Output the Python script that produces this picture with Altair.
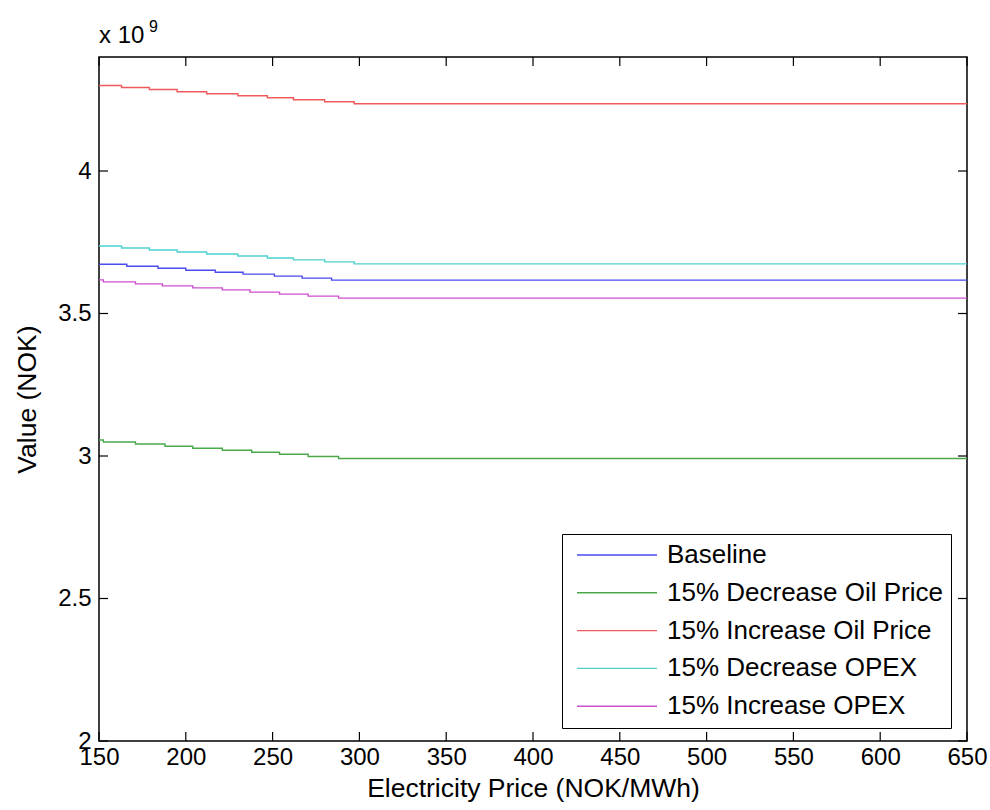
import altair as alt
import pandas as pd

# ---- data (values in units of 1e9 NOK) ----
series_names = [
    "Baseline",
    "15% Decrease Oil Price",
    "15% Increase Oil Price",
    "15% Decrease OPEX",
    "15% Increase OPEX",
]
series_colors = ["#4b4bf0", "#4aa84a", "#f05a5a", "#4fd0d0", "#d04fd0"]

baseline_x = [150, 166, 184, 200, 217, 233, 251, 267, 284, 650]
baseline_y = [3.673, 3.666, 3.659, 3.652, 3.645, 3.638, 3.631, 3.624, 3.617, 3.617]

dec_oil_x = [150, 152.5, 171, 188, 204, 221, 238, 254, 270.5, 288, 650]
dec_oil_y = [3.056, 3.049, 3.042, 3.034, 3.027, 3.020, 3.013, 3.006, 2.998, 2.991, 2.991]

inc_oil_x = [150, 163, 179, 195, 212, 230, 247, 262, 280, 297, 650]
inc_oil_y = [4.300, 4.293, 4.286, 4.278, 4.271, 4.264, 4.257, 4.250, 4.243, 4.236, 4.236]

dec_opex_x = [150, 163, 179, 195, 212, 230, 247, 262, 280, 297, 650]
dec_opex_y = [3.737, 3.730, 3.723, 3.716, 3.709, 3.702, 3.695, 3.688, 3.681, 3.674, 3.674]

inc_opex_x = [150, 152.5, 171, 186.5, 204, 221, 237, 254, 270.5, 288, 650]
inc_opex_y = [3.618, 3.611, 3.604, 3.597, 3.590, 3.583, 3.575, 3.568, 3.561, 3.554, 3.554]

x_ticks = [150, 200, 250, 300, 350, 400, 450, 500, 550, 600, 650]
y_ticks = [2, 2.5, 3, 3.5, 4]

# ---- build table ----
rows = []
for name, xs, ys in zip(
    series_names,
    [baseline_x, dec_oil_x, inc_oil_x, dec_opex_x, inc_opex_x],
    [baseline_y, dec_oil_y, inc_oil_y, dec_opex_y, inc_opex_y],
):
    for i, (xv, yv) in enumerate(zip(xs, ys)):
        rows.append({"series": name, "price": xv, "value": yv, "order": i})
df = pd.DataFrame(rows)

W, H = 868, 684
FONT = "Liberation Sans"

xscale = alt.Scale(domain=[150, 650], nice=False, zero=False)
yscale = alt.Scale(domain=[2, 4.4], nice=False, zero=False)

lines = alt.Chart(df).mark_line(interpolate="step-after", strokeWidth=1.4, clip=True).encode(
    x=alt.X("price:Q", scale=xscale,
            axis=alt.Axis(title="Electricity Price (NOK/MWh)", values=x_ticks, ticks=False,
                          domain=False, grid=False, labelPadding=4, titlePadding=6,
                          labelFlush=False, labelOverlap=False,
                          labelFontSize=24, titleFontSize=26.5, labelFont=FONT, titleFont=FONT,
                          labelColor="black", titleColor="black", titleFontWeight="normal")),
    y=alt.Y("value:Q", scale=yscale,
            axis=alt.Axis(title="Value (NOK)", values=y_ticks, ticks=False, domain=False,
                          grid=False, labelPadding=8, titlePadding=16, labelFontSize=24,
                          labelFlush=False, labelOverlap=False,
                          titleFontSize=26.5, labelFont=FONT, titleFont=FONT,
                          labelColor="black", titleColor="black", titleFontWeight="normal",
                          labelExpr="datum.value == 2 || datum.value == 3 || datum.value == 4 ? format(datum.value, 'd') : format(datum.value, '.1f')")),
    color=alt.Color("series:N", sort=series_names,
                    scale=alt.Scale(domain=series_names, range=series_colors),
                    legend=alt.Legend(title=None, orient="none", legendX=463, legendY=477,
                                      symbolType="M-1,0L7,0", symbolSize=400, symbolStrokeWidth=1.4,
                                      symbolOffset=4, labelOffset=67, labelFontSize=26,
                                      labelFont=FONT, labelColor="black", rowPadding=11.8,
                                      padding=8, strokeColor="black", fillColor="white",
                                      labelLimit=400)),
    order="order:Q",
)

xt = pd.DataFrame({"t": x_ticks})
yt = pd.DataFrame({"t": y_ticks})
tick_style = dict(color="black", strokeWidth=1.2)
bottom_ticks = alt.Chart(xt).mark_rule(**tick_style).encode(
    x=alt.X("t:Q", scale=xscale), y=alt.value(H), y2=alt.value(H - 9))
top_ticks = alt.Chart(xt).mark_rule(**tick_style).encode(
    x=alt.X("t:Q", scale=xscale), y=alt.value(0), y2=alt.value(9))
left_ticks = alt.Chart(yt).mark_rule(**tick_style).encode(
    y=alt.Y("t:Q", scale=yscale), x=alt.value(0), x2=alt.value(9))
right_ticks = alt.Chart(yt).mark_rule(**tick_style).encode(
    y=alt.Y("t:Q", scale=yscale), x=alt.value(W), x2=alt.value(W - 9))

exp_label = alt.Chart(pd.DataFrame({"txt": ["x 10"]})).mark_text(
    align="left", baseline="alphabetic", fontSize=24, font=FONT, color="black"
).encode(x=alt.value(0), y=alt.value(-14), text="txt:N")
exp_sup = alt.Chart(pd.DataFrame({"txt": ["9"]})).mark_text(
    align="left", baseline="alphabetic", fontSize=16, font=FONT, color="black"
).encode(x=alt.value(50), y=alt.value(-25), text="txt:N")

chart = alt.layer(
    lines, bottom_ticks, top_ticks, left_ticks, right_ticks, exp_label, exp_sup
).properties(
    width=W, height=H,
    autosize=alt.AutoSizeParams(type="none"),
    padding={"left": 99, "top": 57, "right": 23, "bottom": 69},
    background="white",
).configure_view(stroke="black", strokeWidth=1.5)

chart.save("out.html", embed_options={"renderer": "svg", "actions": False})
